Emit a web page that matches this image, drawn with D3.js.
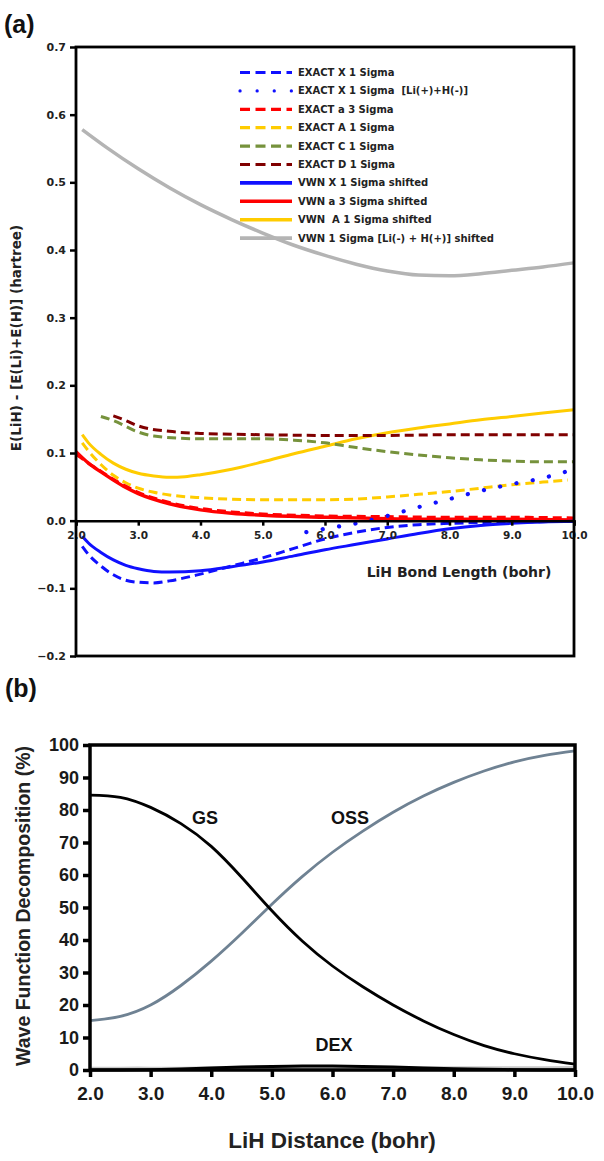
<!DOCTYPE html>
<html><head><meta charset="utf-8">
<script src="https://cdn.jsdelivr.net/npm/d3@7"></script>
<style>
body{margin:0;background:#fff;}
svg{display:block;}
text{white-space:pre;}
</style></head>
<body>
<svg id="c" width="604" height="1161"></svg>
<script>
// ---------- Panel (a) data ----------
const aTicksX = [2,3,4,5,6,7,8,9,10];
const aTicksY = [-0.2,-0.1,0,0.1,0.2,0.3,0.4,0.5,0.6,0.7];

const exactX_x = [2.1,2.2,2.4,2.6,2.8,3.0,3.25,3.5,4.0,4.5,5.0,5.5,6.0,6.5,7.0,7.5,8.0,9.0,10.0];
const exactX_y = [-0.038,-0.050,-0.067,-0.080,-0.088,-0.091,-0.092,-0.089,-0.079,-0.067,-0.055,-0.041,-0.027,-0.017,-0.010,-0.006,-0.004,-0.002,-0.001];

const exactXion_x = [5.7,6.0,6.5,7.0,7.5,8.0,8.5,9.0,9.5,10.0];
const exactXion_y = [-0.017,-0.012,-0.004,0.007,0.020,0.032,0.044,0.054,0.063,0.076];

const exacta_x = [2.0,2.2,2.4,2.6,2.8,3.0,3.5,4.0,4.5,5.0,6.0,7.0,8.0,9.0,10.0];
const exacta_y = [0.098,0.085,0.073,0.061,0.051,0.042,0.027,0.018,0.013,0.010,0.007,0.006,0.005,0.005,0.004];

const exactA_x = [2.1,2.2,2.4,2.6,2.8,3.0,3.25,3.5,4.0,5.0,6.0,6.5,7.0,7.5,8.0,8.5,9.0,9.5,9.9];
const exactA_y = [0.115,0.103,0.083,0.067,0.056,0.048,0.042,0.038,0.034,0.031,0.031,0.032,0.035,0.039,0.043,0.048,0.053,0.057,0.060];

const exactC_x = [2.4,2.6,3.0,3.25,4.0,5.0,5.5,6.0,6.5,7.0,7.5,8.0,8.5,9.0,9.5,10.0];
const exactC_y = [0.154,0.148,0.131,0.125,0.121,0.121,0.119,0.115,0.108,0.102,0.097,0.093,0.090,0.088,0.087,0.087];

const exactD_x = [2.6,2.8,3.0,3.5,4.0,5.0,6.0,7.0,8.0,9.0,10.0];
const exactD_y = [0.155,0.148,0.140,0.132,0.129,0.127,0.126,0.126,0.127,0.127,0.127];

const vwnX_x = [2.1,2.2,2.4,2.6,2.8,3.0,3.25,3.5,4.0,4.5,5.0,5.5,6.0,6.5,7.0,7.5,8.0,8.5,9.0,9.5,10.0];
const vwnX_y = [-0.023,-0.033,-0.047,-0.058,-0.066,-0.071,-0.075,-0.076,-0.074,-0.068,-0.061,-0.052,-0.043,-0.035,-0.027,-0.019,-0.012,-0.007,-0.004,-0.002,-0.001];

const vwna_x = [2.0,2.2,2.4,2.6,2.8,3.0,3.5,4.0,4.5,5.0,6.0,7.0,8.0,9.0,10.0];
const vwna_y = [0.102,0.085,0.072,0.060,0.049,0.040,0.025,0.016,0.011,0.008,0.005,0.003,0.002,0.002,0.001];

const vwnA_x = [2.1,2.2,2.4,2.6,2.8,3.0,3.25,3.5,3.75,4.0,4.5,5.0,5.5,6.0,6.5,7.0,7.5,8.0,8.5,9.0,9.5,10.0];
const vwnA_y = [0.127,0.115,0.098,0.085,0.076,0.070,0.066,0.064,0.065,0.068,0.076,0.087,0.099,0.110,0.121,0.130,0.137,0.143,0.149,0.154,0.159,0.164];

const vwnIon_x = [2.1,2.5,3.0,3.5,4.0,4.5,5.0,5.5,6.0,6.5,7.0,7.5,8.0,8.5,9.0,9.5,10.0];
const vwnIon_y = [0.578,0.551,0.520,0.492,0.467,0.445,0.425,0.407,0.392,0.379,0.369,0.363,0.362,0.365,0.370,0.375,0.381];

const legendLabels = ["EXACT X 1 Sigma","EXACT X 1 Sigma  [Li(+)+H(-)]","EXACT a 3 Sigma","EXACT A 1 Sigma","EXACT C 1 Sigma","EXACT D 1 Sigma","VWN X 1 Sigma shifted","VWN a 3 Sigma shifted","VWN  A 1 Sigma shifted","VWN 1 Sigma [Li(-) + H(+)] shifted"];

// ---------- Panel (b) data ----------
const bTicksX = [2,3,4,5,6,7,8,9,10];
const bTicksY = [0,10,20,30,40,50,60,70,80,90,100];
const bX   = [2.0,2.5,3.0,3.5,4.0,4.5,5.0,5.5,6.0,6.5,7.0,7.5,8.0,8.5,9.0,9.5,10.0];
const gs   = [84.6,83.9,80.8,75.8,68.8,59.3,49.0,39.7,32.0,25.6,20.0,15.1,10.9,7.5,5.0,3.2,1.8];
const oss  = [15.2,16.5,20.0,26.0,33.5,42.0,51.0,59.5,67.0,73.5,79.3,84.3,88.5,92.0,94.8,96.8,98.2];
const dex  = [0.5,0.5,0.5,0.5,0.6,0.6,0.6,0.6,0.6,0.6,0.6,0.6,0.6,0.6,0.6,0.6,0.7];
const dexB = [0.0,0.0,0.1,0.3,0.6,0.9,1.1,1.2,1.2,1.1,0.9,0.6,0.4,0.2,0.1,0.0,0.0];

// ---------- drawing ----------
const svg = d3.select("#c");
const FA = "'DejaVu Sans', sans-serif";
const FB = "'Liberation Sans', Arial, sans-serif";

// Panel (a)
const xA = d3.scaleLinear().domain([2,10]).range([76,574]);
const yA = d3.scaleLinear().domain([-0.2,0.7]).range([656,47]);
const gA = svg.append("g");

const zip = (xs, ys) => xs.map((x,i)=>[x, ys[i]]);
const lineA = d3.line().x(d=>xA(d[0])).y(d=>yA(d[1])).curve(d3.curveMonotoneX);

const BLUE="#1010ff", RED="#ff0000", YEL="#ffcc00", GRN="#76923c", DRED="#800000", GRAY="#b4b4b4";

const seriesA = [
  {x:exactX_x, y:exactX_y, c:BLUE, dash:"9,5", w:3, cap:"butt", lab:0},
  {x:exactXion_x, y:exactXion_y, c:BLUE, dash:"0.1,16.5", w:4.2, cap:"round", lab:1},
  {x:exacta_x, y:exacta_y, c:RED, dash:"9,5", w:3, cap:"butt", lab:2},
  {x:exactA_x, y:exactA_y, c:YEL, dash:"9,5", w:3, cap:"butt", lab:3},
  {x:exactC_x, y:exactC_y, c:GRN, dash:"9,5", w:3, cap:"butt", lab:4},
  {x:exactD_x, y:exactD_y, c:DRED, dash:"9,5", w:3, cap:"butt", lab:5},
  {x:vwnX_x, y:vwnX_y, c:BLUE, dash:null, w:3, cap:"butt", lab:6},
  {x:vwna_x, y:vwna_y, c:RED, dash:null, w:3.4, cap:"butt", lab:7},
  {x:vwnA_x, y:vwnA_y, c:YEL, dash:null, w:3, cap:"butt", lab:8},
  {x:vwnIon_x, y:vwnIon_y, c:GRAY, dash:null, w:3.5, cap:"butt", lab:9}
];
const drawOrder = [9,8,7,6,4,5,3,2,0,1];

// axes (a)
const axLeftA = d3.axisLeft(yA).tickValues(aTicksY).tickFormat(d3.format(".1f")).tickSize(6).tickPadding(4);
const gYA = gA.append("g").attr("transform","translate(76,0)").call(axLeftA);
gYA.select(".domain").remove();
gYA.selectAll(".tick line").attr("stroke","#000").attr("stroke-width",2.5);
gYA.selectAll(".tick text").attr("font-family",FA).attr("font-weight","bold").attr("font-size","11px").attr("fill","#222");

drawOrder.forEach(i=>{
  const s = seriesA[i];
  gA.append("path").attr("d", lineA(zip(s.x,s.y))).attr("fill","none")
    .attr("stroke",s.c).attr("stroke-width",s.w).attr("stroke-linecap",s.cap)
    .attr("stroke-dasharray", s.dash);
});

const axBotA = d3.axisBottom(xA).tickValues(aTicksX).tickFormat(d3.format(".1f")).tickSize(5).tickPadding(6);
const gXA = gA.append("g").attr("transform",`translate(0,${yA(0)})`).call(axBotA);
gXA.select(".domain").attr("stroke","#000").attr("stroke-width",2.5);
gXA.selectAll(".tick line").attr("stroke","#000").attr("stroke-width",2.5);
gXA.selectAll(".tick text").attr("font-family",FA).attr("font-weight","bold").attr("font-size","10.5px").attr("fill","#222");

gA.append("rect").attr("x",xA(2)).attr("y",yA(0.7)).attr("width",xA(10)-xA(2)).attr("height",yA(-0.2)-yA(0.7))
  .attr("fill","none").attr("stroke","#000").attr("stroke-width",2.8);

// legend (a)
const legY0 = 72.5, legStep = 18.4;
seriesA.slice().sort((a,b)=>a.lab-b.lab).forEach((s,k)=>{
  const y = legY0 + k*legStep;
  gA.append("line").attr("x1",240).attr("x2",292).attr("y1",y).attr("y2",y)
    .attr("stroke",s.c).attr("stroke-width",s.dash?3.2:3.6).attr("stroke-linecap",s.cap)
    .attr("stroke-dasharray",s.cap==="round"?"0.1,17":(s.dash?"10,5.5":null));
  gA.append("text").attr("x",298).attr("y",y).attr("dy","0.35em").text(legendLabels[k])
    .attr("font-family",FA).attr("font-weight","bold").attr("font-size","10px").attr("fill","#222");
});

gA.append("text").attr("x",459).attr("y",572).attr("dy","0.35em").attr("text-anchor","middle")
  .text("LiH Bond Length (bohr)").attr("font-family",FA).attr("font-weight","bold").attr("font-size","14px").attr("fill","#222");
gA.append("text").attr("transform","translate(16,338) rotate(-90)").attr("text-anchor","middle").attr("dy","0.35em")
  .text("E(LiH) - [E(Li)+E(H)] (hartree)").attr("font-family",FA).attr("font-weight","bold").attr("font-size","13.5px").attr("fill","#222");
svg.append("text").attr("x",4).attr("y",33).text("(a)").attr("font-family",FB).attr("font-weight","bold").attr("font-size","25px").attr("fill","#111");

// Panel (b)
const xB = d3.scaleLinear().domain([2,10]).range([90,575]);
const yB = d3.scaleLinear().domain([0,100]).range([1070,745]);
const gB = svg.append("g");
const lineB = d3.line().x(d=>xB(d[0])).y(d=>yB(d[1])).curve(d3.curveNatural);

gB.append("path").attr("d",lineB(zip(bX,dex))).attr("fill","none").attr("stroke","#c8c8c8").attr("stroke-width",3.5);
gB.append("path").attr("d",lineB(zip(bX,dexB))).attr("fill","none").attr("stroke","#000").attr("stroke-width",3);
gB.append("path").attr("d",lineB(zip(bX,oss))).attr("fill","none").attr("stroke","#6f8293").attr("stroke-width",2.8);
gB.append("path").attr("d",lineB(zip(bX,gs))).attr("fill","none").attr("stroke","#000").attr("stroke-width",2.8);

const axLeftB = d3.axisLeft(yB).tickValues(bTicksY).tickFormat(d3.format("d")).tickSize(7).tickPadding(4);
const gYB = gB.append("g").attr("transform","translate(90,0)").call(axLeftB);
gYB.select(".domain").remove();
gYB.selectAll(".tick line").attr("stroke","#000").attr("stroke-width",3.5);
gYB.selectAll(".tick text").attr("font-family",FB).attr("font-weight","bold").attr("font-size","18px").attr("fill","#1a1a1a");

const axBotB = d3.axisBottom(xB).tickValues(bTicksX).tickFormat(d3.format(".1f")).tickSize(7).tickPadding(10);
const gXB = gB.append("g").attr("transform","translate(0,1070)").call(axBotB);
gXB.select(".domain").remove();
gXB.selectAll(".tick line").attr("stroke","#000").attr("stroke-width",3.5);
gXB.selectAll(".tick text").attr("font-family",FB).attr("font-weight","bold").attr("font-size","19px").attr("fill","#1a1a1a");

gB.append("rect").attr("x",90).attr("y",745).attr("width",485).attr("height",325)
  .attr("fill","none").attr("stroke","#000").attr("stroke-width",3.5);

const bLabels = [{t:"GS",x:205,y:818},{t:"OSS",x:350,y:818},{t:"DEX",x:334,y:1045}];
bLabels.forEach(l=>gB.append("text").attr("x",l.x).attr("y",l.y).attr("dy","0.35em").attr("text-anchor","middle")
  .text(l.t).attr("font-family",FB).attr("font-weight","bold").attr("font-size","18px").attr("fill","#111"));

gB.append("text").attr("x",332).attr("y",1140).attr("dy","0.35em").attr("text-anchor","middle")
  .text("LiH Distance (bohr)").attr("font-family",FB).attr("font-weight","bold").attr("font-size","22.5px").attr("fill","#222");
gB.append("text").attr("transform","translate(23,906) rotate(-90)").attr("text-anchor","middle").attr("dy","0.35em")
  .text("Wave Function Decomposition (%)").attr("font-family",FB).attr("font-weight","bold").attr("font-size","19.5px").attr("fill","#222");
svg.append("text").attr("x",5).attr("y",697).text("(b)").attr("font-family",FB).attr("font-weight","bold").attr("font-size","25px").attr("fill","#111");
</script>
</body></html>
